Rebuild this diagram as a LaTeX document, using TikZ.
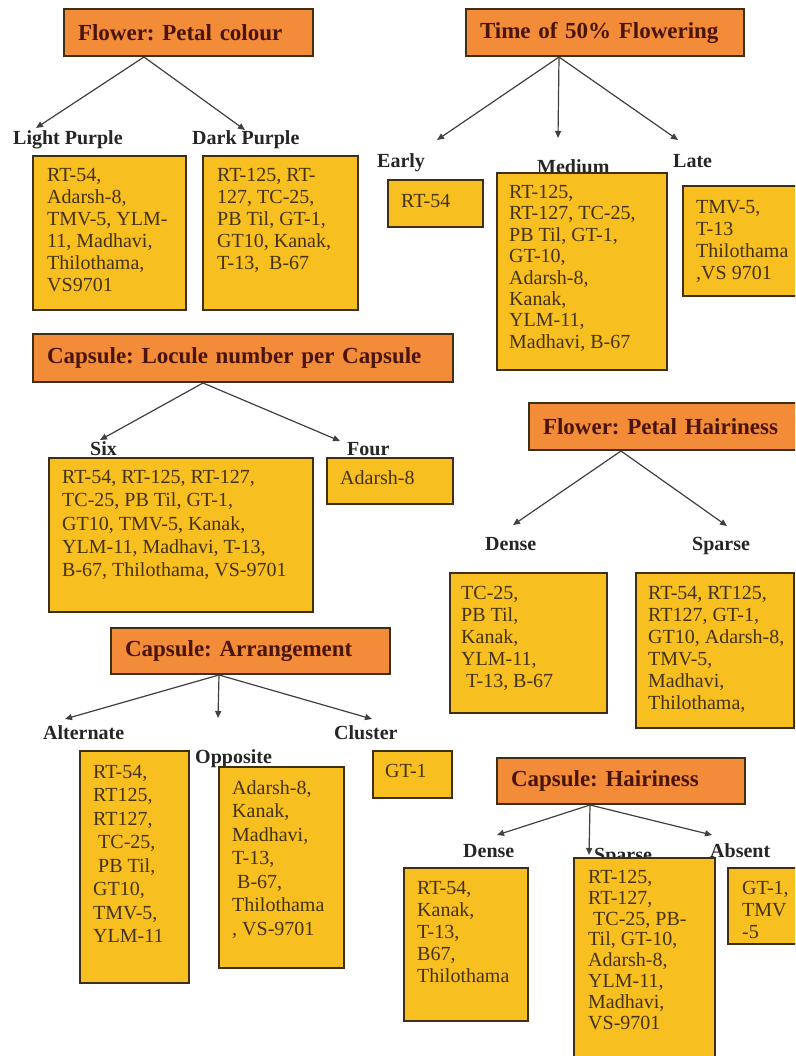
\documentclass[tikz,border=0pt]{standalone}
\usepackage{fontspec}
\setmainfont{Liberation Serif}
\frenchspacing
\usetikzlibrary{positioning,arrows.meta}
\definecolor{headfill}{HTML}{F28C38}
\definecolor{boxfill}{HTML}{F7BF1F}
\definecolor{edgebrown}{HTML}{3E2E14}
\definecolor{headtext}{HTML}{4A140A}
\definecolor{bodytext}{HTML}{45320E}
\tikzset{
  treearrow/.style={-{Triangle[length=7pt,width=6pt]}, line width=1.2pt, black!75},
  headbox/.style={draw=edgebrown, line width=2pt, fill=headfill, anchor=north west, inner xsep=14pt, inner ysep=0pt, align=left, font=\bfseries\fontsize{23}{26}\selectfont, text=headtext},
  listbox/.style={draw=edgebrown, line width=2.2pt, fill=boxfill, anchor=north west, inner sep=0pt},
  listtext/.style={anchor=north west, inner sep=0pt, align=left, text=bodytext, font=\fontsize{20}{#1}\selectfont},
  listtext/.default=22,
  catlabel/.style={anchor=base west, inner sep=0pt, font=\bfseries\fontsize{20}{24}\selectfont, text=black!85}
}
\begin{document}
\begin{tikzpicture}[x=1pt, y=-1pt]
  \clip (0,0) rectangle (795,1056);
  \fill[white] (0,0) rectangle (795,1056);

  % petal colour
  \node[headbox, text width=221pt, minimum height=47pt] (pchead) at (63,8) {Flower: Petal colour};
  \node[catlabel] (lplab) at (13,145) {Light Purple};
  \node[catlabel] (dplab) at (192,145) {Dark Purple};
  \node[listbox, minimum width=153pt, minimum height=154pt] (lpbox) at (32,155) {};
  \node[listtext] (lptext) at ([shift={(15,13)}]lpbox.north west) {RT-54,\\Adarsh-8,\\TMV-5, YLM-\\11, Madhavi,\\Thilothama,\\VS9701};
  \node[listbox, minimum width=155pt, minimum height=154pt] (dpbox) at (202,155) {};
  \node[listtext] (dptext) at ([shift={(15,13)}]dpbox.north west) {RT-125, RT-\\127, TC-25,\\PB Til, GT-1,\\GT10, Kanak,\\T-13,~ B-67};

  % time of flowering
  \node[headbox, text width=250pt, minimum height=47pt] (tfhead) at (465,8) {Time of 50\% Flowering};
  \node[catlabel] (erlab) at (377,168) {Early};
  \node[catlabel] (mdlab) at (537,174) {Medium};
  \node[catlabel] (ltlab) at (673,168) {Late};
  \node[listbox, minimum width=95pt, minimum height=47pt] (erbox) at (387,179) {};
  \node[listtext] (ertext) at ([shift={(14,15)}]erbox.north west) {RT-54};
  \node[listbox, minimum width=170pt, minimum height=197pt] (mdbox) at (496,172) {};
  \node[listtext=21.4] (mdtext) at ([shift={(13,13)}]mdbox.north west) {RT-125,\\RT-127, TC-25,\\PB Til, GT-1,\\GT-10,\\Adarsh-8,\\Kanak,\\YLM-11,\\Madhavi, B-67};
  \node[listbox, minimum width=118pt, minimum height=110pt] (ltbox) at (682,185) {};
  \node[listtext] (lttext) at ([shift={(14,15)}]ltbox.north west) {TMV-5,\\T-13\\Thilothama\\,VS 9701};

  % locule number
  \node[headbox, text width=392pt, minimum height=48pt] (lnhead) at (32,333) {Capsule: Locule number per Capsule};
  \node[catlabel] (sxlab) at (90,455) {Six};
  \node[catlabel] (frlab) at (347,455) {Four};
  \node[listbox, minimum width=264pt, minimum height=154pt] (sxbox) at (48,457) {};
  \node[listtext=23.3] (sxtext) at ([shift={(14,13)}]sxbox.north west) {RT-54, RT-125, RT-127,\\TC-25, PB Til, GT-1,\\GT10, TMV-5, Kanak,\\YLM-11, Madhavi, T-13,\\B-67, Thilothama, VS-9701};
  \node[listbox, minimum width=126pt, minimum height=46pt] (frbox) at (326,457) {};
  \node[listtext] (frtext) at ([shift={(14,13)}]frbox.north west) {Adarsh-8};

  % petal hairiness
  \node[headbox, text width=240pt, minimum height=47pt] (phhead) at (528,402) {Flower: Petal Hairiness};
  \node[catlabel] (pdlab) at (485,550) {Dense};
  \node[catlabel] (pslab) at (692,550) {Sparse};
  \node[listbox, minimum width=157pt, minimum height=140pt] (pdbox) at (449,572) {};
  \node[listtext] (pdtext) at ([shift={(12,14)}]pdbox.north west) {TC-25,\\PB Til,\\Kanak,\\YLM-11,\\\hspace*{5pt}T-13, B-67};
  \node[listbox, minimum width=158pt, minimum height=155pt] (psbox) at (635,572) {};
  \node[listtext] (pstext) at ([shift={(13,14)}]psbox.north west) {RT-54, RT125,\\RT127, GT-1,\\GT10, Adarsh-8,\\TMV-5,\\Madhavi,\\Thilothama,};

  % arrangement
  \node[headbox, text width=251pt, minimum height=46pt] (arhead) at (110,627) {Capsule: Arrangement};
  \node[catlabel] (allab) at (43,739) {Alternate};
  \node[catlabel] (oplab) at (195,763) {Opposite};
  \node[catlabel] (cllab) at (334,739) {Cluster};
  \node[listbox, minimum width=109pt, minimum height=232pt] (albox) at (79,750) {};
  \node[listtext=23.5] (altext) at ([shift={(14,15)}]albox.north west) {RT-54,\\RT125,\\RT127,\\\hspace*{5pt}TC-25,\\\hspace*{5pt}PB Til,\\GT10,\\TMV-5,\\YLM-11};
  \node[listbox, minimum width=125pt, minimum height=201pt] (opbox) at (218,766) {};
  \node[listtext=23.5] (optext) at ([shift={(14,14)}]opbox.north west) {Adarsh-8,\\Kanak,\\Madhavi,\\T-13,\\\hspace*{5pt}B-67,\\Thilothama\\, VS-9701};
  \node[listbox, minimum width=79pt, minimum height=47pt] (clbox) at (372,750) {};
  \node[listtext] (cltext) at ([shift={(13,14)}]clbox.north west) {GT-1};

  % capsule hairiness
  \node[headbox, text width=220pt, minimum height=46pt] (chhead) at (496,757) {Capsule: Hairiness};
  \node[catlabel] (cdlab) at (463,857) {Dense};
  \node[catlabel] (cslab) at (594,861) {Sparse};
  \node[catlabel] (ablab) at (710,857) {Absent};
  \node[listbox, minimum width=124pt, minimum height=153pt] (cdbox) at (403,867) {};
  \node[listtext] (cdtext) at ([shift={(14,14)}]cdbox.north west) {RT-54,\\Kanak,\\T-13,\\B67,\\Thilothama};
  \node[listbox, minimum width=141pt, minimum height=213pt] (csbox) at (573,857) {};
  \node[listtext=20.8] (cstext) at ([shift={(15,13)}]csbox.north west) {RT-125,\\RT-127,\\\hspace*{5pt}TC-25, PB-\\Til, GT-10,\\Adarsh-8,\\YLM-11,\\Madhavi,\\VS-9701};
  \node[listbox, minimum width=73pt, minimum height=76pt] (abbox) at (727,867) {};
  \node[listtext] (abtext) at ([shift={(15,14)}]abbox.north west) {GT-1,\\TMV\\-5};

  % forks under the headings
  \coordinate (pcfork) at ([xshift=-44.5]pchead.south);
  \coordinate (tffork) at ([xshift=-46]tfhead.south);
  \coordinate (lnfork) at ([xshift=-40]lnhead.south);
  \coordinate (phfork) at ([xshift=-42]phhead.south);
  \coordinate (arfork) at ([xshift=-31.5]arhead.south);
  \coordinate (chfork) at ([xshift=-31]chhead.south);

  \draw[treearrow] (pcfork) -- ([xshift=23,yshift=17]lplab.base west);
  \draw[treearrow] (pcfork) -- ([xshift=53,yshift=15]dplab.base west);
  \draw[treearrow] (tffork) -- ([xshift=60,yshift=28]erlab.base west);
  \draw[treearrow] (tffork) -- ([xshift=21,yshift=36]mdlab.base west);
  \draw[treearrow] (tffork) -- ([xshift=5,yshift=28]ltlab.base west);
  \draw[treearrow] (lnfork) -- ([xshift=10,yshift=15]sxlab.base west);
  \draw[treearrow] (lnfork) -- ([xshift=-7,yshift=14]frlab.base west);
  \draw[treearrow] (phfork) -- ([xshift=28,yshift=25]pdlab.base west);
  \draw[treearrow] (phfork) -- ([xshift=35,yshift=24]pslab.base west);
  \draw[treearrow] (arfork) -- ([xshift=22,yshift=20]allab.base west);
  \draw[treearrow] (arfork) -- ([xshift=23,yshift=45]oplab.base west);
  \draw[treearrow] (arfork) -- ([xshift=38,yshift=20]cllab.base west);
  \draw[treearrow] (chfork) -- ([xshift=34,yshift=22]cdlab.base west);
  \draw[treearrow] (chfork) -- ([xshift=-5,yshift=6]cslab.base west);
  \draw[treearrow] (chfork) -- ([xshift=2,yshift=22]ablab.base west);
\end{tikzpicture}
\end{document}
